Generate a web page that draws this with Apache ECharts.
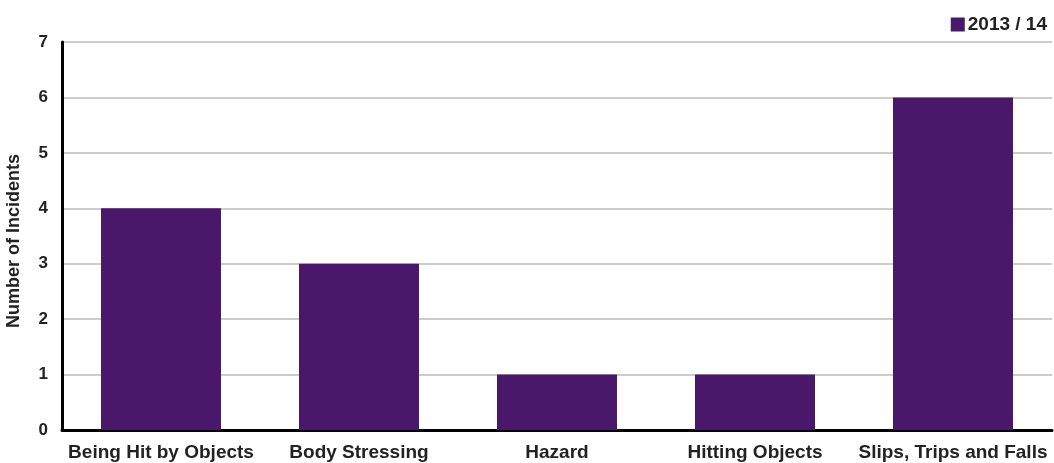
<!DOCTYPE html>
<html>
<head>
<meta charset="utf-8">
<script src="https://cdn.jsdelivr.net/npm/echarts@6/dist/echarts.min.js"></script>
<style>
  html, body { margin: 0; padding: 0; background: #fff; }
  #chart { width: 1054px; height: 463px; }
</style>
</head>
<body>
<div id="chart"></div>
<script>
var categories = ['Being Hit by Objects', 'Body Stressing', 'Hazard', 'Hitting Objects', 'Slips, Trips and Falls'];
var incidents = [4, 3, 1, 1, 6];
var seriesName = '2013 / 14';

var chart = echarts.init(document.getElementById('chart'));
var font = '"Liberation Sans", Arial, Helvetica, sans-serif';

var option = {
  animation: false,
  textStyle: { fontFamily: font },
  legend: {
    right: 2,
    top: 10,
    icon: 'rect',
    itemWidth: 14,
    itemHeight: 14,
    itemGap: 4,
    data: [seriesName],
    textStyle: { fontFamily: font, fontWeight: 'bold', fontSize: 19, color: '#222', padding: [0, 0, 0, -2] }
  },
  grid: { left: 62, right: 2, top: 42, bottom: 33, outerBoundsMode: 'none' },
  xAxis: {
    type: 'category',
    data: categories,
    axisLine: { lineStyle: { color: '#000', width: 3 } },
    axisTick: { show: false },
    axisLabel: { fontFamily: font, fontWeight: 'bold', fontSize: 19, color: '#222', margin: 13, interval: 0 }
  },
  yAxis: {
    type: 'value',
    min: 0,
    max: 7,
    interval: 1,
    name: 'Number of Incidents',
    nameLocation: 'middle',
    nameGap: 39,
    nameTextStyle: { fontFamily: font, fontWeight: 'bold', fontSize: 18, color: '#222', padding: [0, 10, 0, 0] },
    axisLine: { show: true, lineStyle: { color: '#000', width: 3 } },
    axisTick: { show: false },
    axisLabel: { fontFamily: font, fontWeight: 'bold', fontSize: 17, color: '#222', margin: 14 },
    splitLine: { lineStyle: { color: '#cccccc', width: 2 } }
  },
  series: [{
    name: seriesName,
    type: 'bar',
    data: incidents,
    barWidth: '60.6%',
    itemStyle: { color: '#4a186b' }
  }]
};
chart.setOption(option);
</script>
</body>
</html>
